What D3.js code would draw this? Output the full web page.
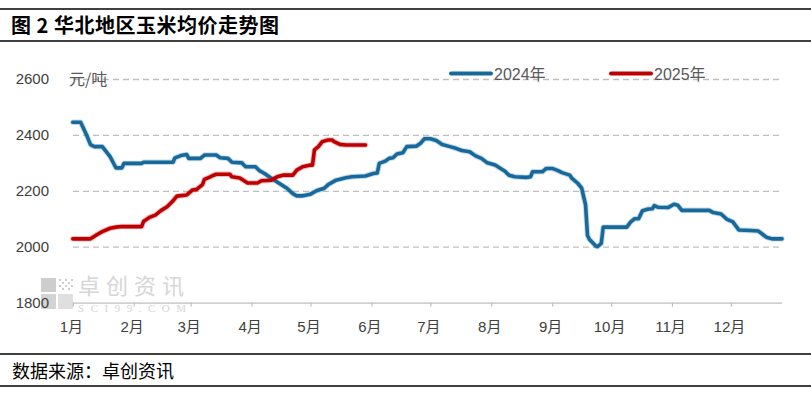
<!DOCTYPE html>
<html>
<head>
<meta charset="utf-8">
<script src="https://cdn.jsdelivr.net/npm/d3@7/dist/d3.min.js"></script>
<style>
  html, body { margin: 0; padding: 0; background: #fff; }
  svg { display: block; }
  text { font-family: "Liberation Sans", Arial, "Noto Sans CJK SC", sans-serif; }
</style>
</head>
<body>
<svg id="chart" width="811" height="395"></svg>
<script>
// ---- data (dates as MM-DD, mapped onto one calendar year) ----
const title = "图 2 华北地区玉米均价走势图";
const source = "数据来源：卓创资讯";
const unitLabel = "元/吨";
const seriesNames = ["2024年", "2025年"];
const monthLabels = ["1月","2月","3月","4月","5月","6月","7月","8月","9月","10月","11月","12月"];
const yTicks = [1800, 2000, 2200, 2400, 2600];

const dates2024 = ["01-01","01-05","01-08","01-10","01-12","01-16","01-18","01-20","01-22","01-23","01-26","01-27",
  "02-05","02-06","02-21","02-22","02-25","02-28","02-29","03-06","03-08","03-14","03-16","03-20","03-22","03-27","03-29",
  "04-03","04-05","04-08","04-11","04-15","04-19","04-22","04-24","04-27","05-01","05-04","05-08","05-10","05-14","05-19",
  "05-22","05-29","06-02","06-04","06-05","06-08","06-10","06-12","06-14","06-17","06-19","06-24","06-26","06-28",
  "07-01","07-04","07-07","07-11","07-14","07-17","07-21","07-24","07-27","07-30","08-03","08-05","08-08","08-10","08-13",
  "08-19","08-21","08-22","08-27","08-29","09-01","09-04","09-06","09-10","09-11","09-14","09-16","09-18","09-19","09-20",
  "09-23","09-24","09-25","09-26","09-27","10-09","10-11","10-13","10-15","10-17","10-20","10-22","10-23","10-25","10-30",
  "11-02","11-04","11-06","11-20","11-22","11-26","11-29","12-02","12-05","12-11","12-15","12-19","12-22","12-27"];
const values2024 = [2445,2445,2400,2365,2358,2358,2340,2322,2295,2282,2282,2298,
  2298,2302,2302,2318,2326,2330,2316,2316,2328,2328,2318,2316,2302,2300,2286,
  2286,2272,2260,2245,2227,2209,2190,2182,2182,2188,2200,2209,2222,2238,2247,
  2250,2253,2262,2264,2298,2306,2316,2318,2332,2336,2358,2360,2370,2386,
  2386,2380,2366,2358,2352,2344,2340,2325,2316,2300,2292,2283,2270,2256,2250,
  2248,2250,2268,2268,2280,2280,2272,2265,2256,2245,2227,2210,2150,2040,2026,
  2004,2000,2006,2012,2070,2070,2089,2100,2100,2129,2135,2136,2147,2141,2140,
  2152,2148,2130,2130,2122,2117,2098,2089,2060,2058,2056,2034,2028,2028];

const dates2025 = ["01-01","01-10","01-13","01-16","01-20","01-23","01-26","02-05","02-06","02-09","02-12","02-15",
  "02-18","02-21","02-23","02-28","03-02","03-04","03-07","03-08","03-11","03-12","03-14","03-21","03-22","03-26",
  "03-30","04-04","04-06","04-11","04-14","04-17","04-22","04-24","04-27","05-01","05-02","05-03","05-05","05-07",
  "05-10","05-12","05-13","05-16","05-19","05-29"];
const values2025 = [2028,2028,2042,2054,2066,2070,2072,2072,2090,2105,2113,2130,
  2143,2164,2181,2185,2203,2205,2222,2241,2250,2254,2259,2259,2250,2246,
  2228,2228,2236,2238,2250,2256,2256,2274,2286,2292,2292,2346,2358,2376,
  2382,2382,2376,2366,2364,2364];

const colors = ["#17699b", "#c00000"];

// ---- helpers ----
const toDate = s => { const [m, d] = s.split("-").map(Number); return new Date(2024, m - 1, d); };
const series = [
  { name: seriesNames[0], color: colors[0], pts: dates2024.map((d, i) => ({ x: toDate(d), y: values2024[i] })) },
  { name: seriesNames[1], color: colors[1], pts: dates2025.map((d, i) => ({ x: toDate(d), y: values2025[i] })) }
];

const svg = d3.select("#chart");

// title & footer rules
const rules = [9, 41, 354, 386];
svg.selectAll("line.rule").data(rules).enter().append("line")
  .attr("x1", 0).attr("x2", 811).attr("y1", d => d).attr("y2", d => d)
  .attr("stroke", "#000").attr("stroke-width", 1.5);
svg.append("text").attr("x", 11).attr("y", 33).text(title)
  .attr("font-size", 20).attr("font-weight", "bold").attr("fill", "#000")
  .style("font-family", "'Noto Sans CJK SC', sans-serif").attr("letter-spacing", 0.5);
svg.append("text").attr("x", 12).attr("y", 378).text(source)
  .attr("font-size", 18).attr("fill", "#000")
  .style("font-family", "'Noto Sans CJK SC', sans-serif");

// scales
const x = d3.scaleTime().domain([new Date(2024, 0, 1), new Date(2024, 11, 27)]).range([72.8, 782]);
const y = d3.scaleLinear().domain([1800, 2600]).range([302.6, 79]);

// watermark
const wm = svg.append("g").attr("opacity", 0.9);
wm.append("rect").attr("x", 41).attr("y", 278).attr("width", 15).attr("height", 14).attr("fill", "#c8c8c8");
wm.append("rect").attr("x", 41).attr("y", 294).attr("width", 15).attr("height", 15).attr("fill", "#cfcfcf");
wm.append("rect").attr("x", 58).attr("y", 294).attr("width", 15).attr("height", 15).attr("fill", "#dcdcdc");
[[59,279],[65,279],[62,282],[59,285],[65,285],[62,288],[68,282],[68,288],[71,279],[71,285]].forEach(p =>
  wm.append("rect").attr("x", p[0]).attr("y", p[1]).attr("width", 2).attr("height", 2).attr("fill", "#c8c8c8"));
wm.append("text").attr("x", 78).attr("y", 294).text("卓创资讯").attr("font-size", 22)
  .attr("fill", "#d2d2d2").attr("textLength", 106).style("font-family", "'Noto Sans CJK SC', sans-serif");
wm.append("text").attr("x", 78).attr("y", 312).text("SCI99.COM").attr("font-size", 11)
  .attr("fill", "#d2d2d2").attr("textLength", 108).style("font-family", "'Liberation Serif', serif");

// gridlines
const grid = svg.append("g").attr("transform", "translate(73,0)")
  .call(d3.axisLeft(y).tickValues(yTicks.filter(v => v > 1800)).tickSize(-710).tickFormat(""));
grid.select(".domain").remove();
grid.selectAll("line").attr("stroke", "#bfbfbf").attr("stroke-width", 1.3).attr("stroke-dasharray", "6,4");

// y labels
const yAx = svg.append("g").attr("transform", "translate(49,0)")
  .call(d3.axisLeft(y).tickValues(yTicks).tickSize(0).tickPadding(0).tickFormat(d3.format("d")));
yAx.select(".domain").remove();
yAx.selectAll("text").attr("font-size", 15).attr("fill", "#404040")
  .style("font-family", "'Liberation Sans', Arial, sans-serif");

// x axis
const xAx = svg.append("g").attr("transform", `translate(0,${y(1800)})`)
  .call(d3.axisBottom(x).tickValues(monthLabels.map((_, i) => new Date(2024, i, 1)))
    .tickSize(4).tickPadding(15).tickFormat((d, i) => monthLabels[i]));
xAx.select(".domain").attr("stroke", "#bfbfbf").attr("stroke-width", 1.3).attr("d", "M73,0.5H782");
xAx.selectAll(".tick line").attr("stroke", "#bfbfbf").attr("stroke-width", 1.2);
xAx.selectAll("text").attr("font-size", 15).attr("fill", "#404040").attr("dx", -2)
  .style("font-family", "'Liberation Sans', Arial, 'Noto Sans CJK SC', sans-serif");

// unit label
svg.append("text").attr("x", 69).attr("y", 85).text(unitLabel)
  .attr("font-size", 16).attr("fill", "#595959")
  .style("font-family", "'Noto Sans CJK SC', sans-serif");

// lines
const line = d3.line().x(d => x(d.x)).y(d => y(d.y));
series.forEach(s => {
  svg.append("path").datum(s.pts).attr("d", line).attr("fill", "none")
    .attr("stroke", s.color).attr("stroke-opacity", 0.25).attr("stroke-width", 5.5)
    .attr("stroke-linejoin", "round").attr("stroke-linecap", "round");
  svg.append("path").datum(s.pts).attr("d", line).attr("fill", "none")
    .attr("stroke", s.color).attr("stroke-width", 3.6)
    .attr("stroke-linejoin", "round").attr("stroke-linecap", "round");
});

// legend
const legendX = [451, 611];
series.forEach((s, i) => {
  const g = svg.append("g").attr("transform", `translate(${legendX[i]},73.5)`);
  g.append("line").attr("x1", 0).attr("x2", 40).attr("y1", 0).attr("y2", 0)
    .attr("stroke", s.color).attr("stroke-width", 4).attr("stroke-linecap", "round");
  g.append("text").attr("x", 43).attr("y", 6).text(s.name)
    .attr("font-size", 16).attr("fill", "#595959")
    .style("font-family", "'Liberation Sans', Arial, 'Noto Sans CJK SC', sans-serif");
});
</script>
</body>
</html>
